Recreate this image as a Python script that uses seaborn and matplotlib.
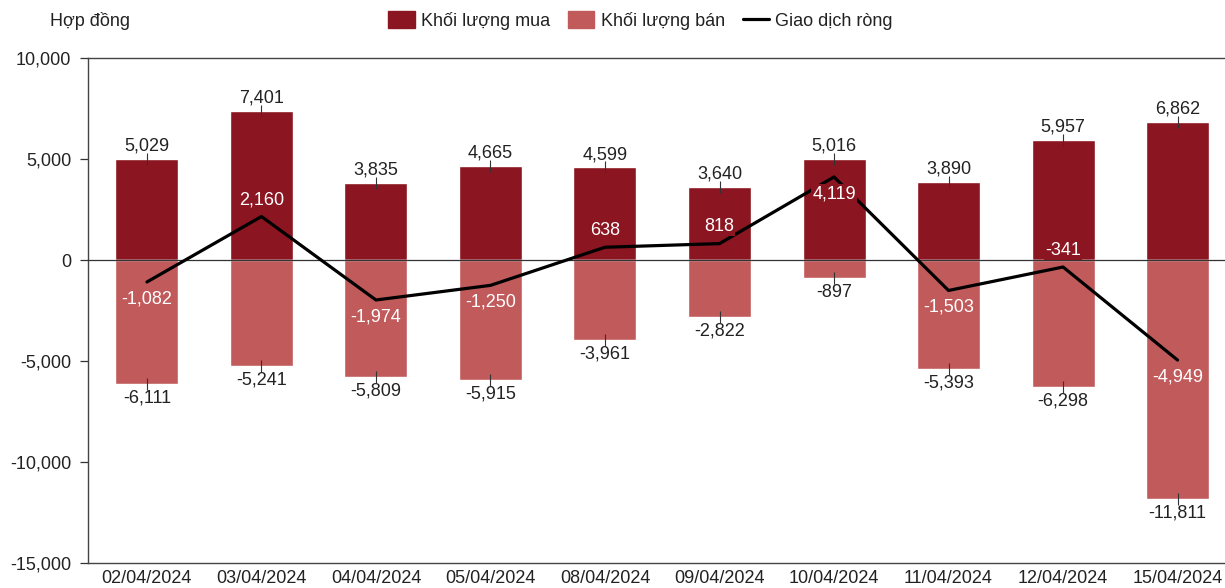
import numpy as np
import pandas as pd
import seaborn as sns
import matplotlib.pyplot as plt
from matplotlib.patches import Patch
from matplotlib.lines import Line2D
from matplotlib.ticker import FuncFormatter

dates = ["02/04/2024", "03/04/2024", "04/04/2024", "05/04/2024", "08/04/2024",
         "09/04/2024", "10/04/2024", "11/04/2024", "12/04/2024", "15/04/2024"]
buy = [5029, 7401, 3835, 4665, 4599, 3640, 5016, 3890, 5957, 6862]
sell = [-6111, -5241, -5809, -5915, -3961, -2822, -897, -5393, -6298, -11811]
net = [-1082, 2160, -1974, -1250, 638, 818, 4119, -1503, -341, -4949]
# where the net label sits: 1 above the point, -1 below
net_side = [-1, 1, -1, -1, 1, 1, -1, -1, 1, -1]

BUY_COLOR = "#8B1520"
SELL_COLOR = "#C15A5B"
TEXT_COLOR = "#222222"
FS = 13

sns.set_style("white")
plt.rcParams["font.family"] = ["Liberation Sans", "DejaVu Sans"]
plt.rcParams["font.size"] = FS


def main():
    df = pd.DataFrame({"date": dates, "buy": buy, "sell": sell, "net": net})

    fig = plt.figure(figsize=(12.25, 5.88), dpi=100)
    ax = fig.add_axes([0.0718, 0.0425, 0.9278, 0.8585])

    sns.barplot(data=df, x="date", y="buy", color=BUY_COLOR, width=0.55,
                saturation=1, ax=ax, zorder=2)
    sns.barplot(data=df, x="date", y="sell", color=SELL_COLOR, width=0.55,
                saturation=1, ax=ax, zorder=2)
    ax.axhline(0, color="#333333", lw=0.9, zorder=3)
    sns.pointplot(data=df, x="date", y="net", color="black", markers="",
                  linewidth=2.3, ax=ax, zorder=4)

    # small tick marks at the bar ends
    for col in ["buy", "sell"]:
        sns.scatterplot(data=df, x="date", y=col, marker="|", s=70,
                        color="#333333", linewidth=0.8, ax=ax, zorder=3,
                        legend=False)

    for i, (b, s, n, side) in enumerate(zip(buy, sell, net, net_side)):
        ax.annotate(f"{b:,}", (i, b), xytext=(0, 3), textcoords="offset points",
                    ha="center", va="bottom", color=TEXT_COLOR, fontsize=FS)
        ax.annotate(f"{s:,}", (i, s), xytext=(0, -4), textcoords="offset points",
                    ha="center", va="top", color=TEXT_COLOR, fontsize=FS)
        label_y = n + side * 800
        bg = BUY_COLOR if label_y > 0 else SELL_COLOR
        ax.annotate(f"{n:,}", (i, n), xytext=(0, side * 12), textcoords="offset points",
                    ha="center", va="center", color="white", fontsize=FS, zorder=5,
                    bbox=dict(boxstyle="square,pad=0.05", fc=bg, ec="none"))

    ax.set_xlim(-0.515, 9.41)
    ax.set_ylim(-15000, 10000)
    ax.set_yticks(np.arange(-15000, 10001, 5000))
    ax.yaxis.set_major_formatter(FuncFormatter(lambda v, p: f"{int(v):,}"))
    ax.set_xlabel("")
    ax.set_ylabel("")
    ax.tick_params(axis="y", left=True, length=6, width=0.9, colors="#333333",
                   labelcolor=TEXT_COLOR, labelsize=FS, pad=6)
    ax.tick_params(axis="x", bottom=False, labelcolor=TEXT_COLOR, labelsize=FS, pad=1.5)

    for side in ["left", "bottom", "top"]:
        ax.spines[side].set_visible(True)
        ax.spines[side].set_color("#444444")
        ax.spines[side].set_linewidth(1.0)
    ax.spines["right"].set_visible(False)

    fig.text(0.041, 0.965, "Hợp đồng", ha="left", va="center",
             color=TEXT_COLOR, fontsize=FS)

    handles = [Patch(color=BUY_COLOR), Patch(color=SELL_COLOR),
               Line2D([], [], color="black", lw=2.3)]
    labels = ["Khối lượng mua", "Khối lượng bán", "Giao dịch ròng"]
    fig.legend(handles, labels, loc="center", bbox_to_anchor=(0.523, 0.965),
               ncol=3, frameon=False, fontsize=FS, handlelength=1.45,
               handleheight=1.0, handletextpad=0.35, columnspacing=1.0,
               labelcolor=TEXT_COLOR)

    fig.savefig("out.png", dpi=100)
    plt.close(fig)


if __name__ == "__main__":
    main()
